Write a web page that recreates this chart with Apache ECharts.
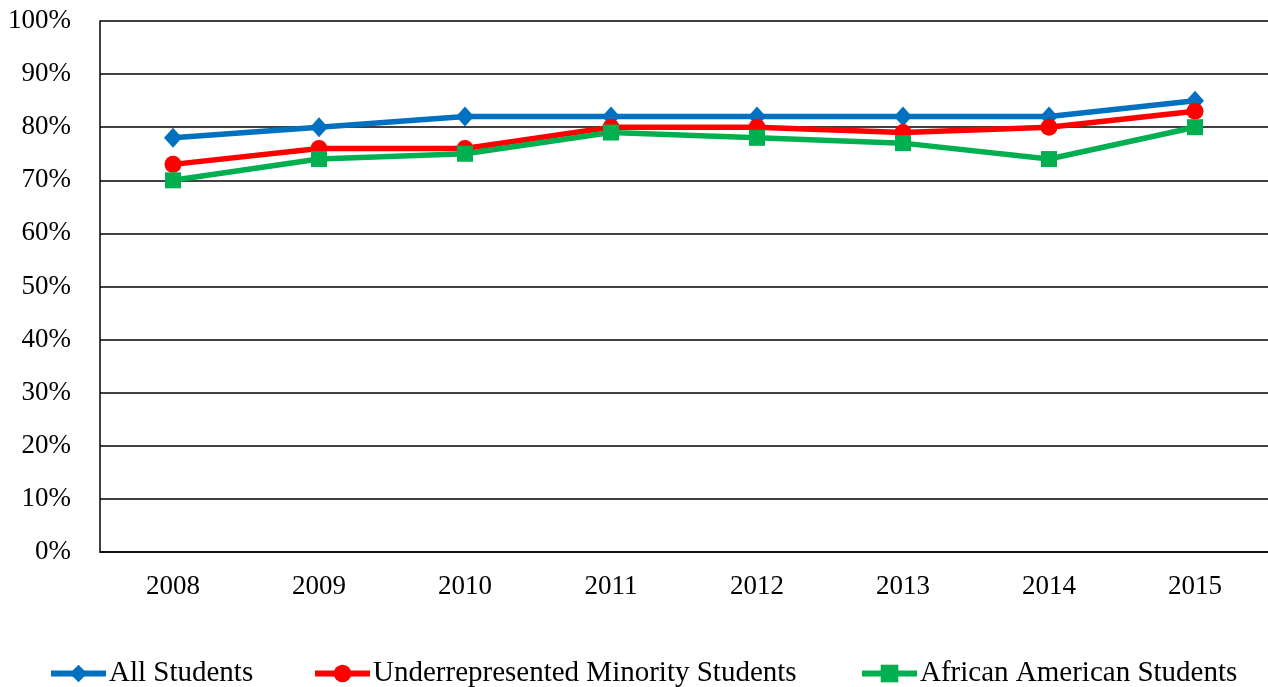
<!DOCTYPE html>
<html>
<head>
<meta charset="utf-8">
<script src="https://cdn.jsdelivr.net/npm/echarts@6/dist/echarts.min.js"></script>
<style>html,body{margin:0;padding:0;background:#fff}#c{width:1268px;height:687px}</style>
</head>
<body>
<div id="c"></div>
<script>
const categories = ['2008','2009','2010','2011','2012','2013','2014','2015'];
const allStudents = [78, 80, 82, 82, 82, 82, 82, 85];
const urmStudents = [73, 76, 76, 80, 80, 79, 80, 83];
const aaStudents = [70, 74, 75, 79, 78, 77, 74, 80];
const seriesNames = ['All Students', 'Underrepresented Minority Students', 'African American Students'];

const chart = echarts.init(document.getElementById('c'), null, {renderer: 'canvas'});
const font = '"Liberation Serif", "Times New Roman", serif';
const legendBase = {
  orient: 'horizontal', top: 659, padding: 0, itemWidth: 55, itemHeight: 22, itemGap: 0,
  lineStyle: {width: 6},
  textStyle: {fontFamily: font, fontSize: 29, color: '#000', padding: [0,0,0,-2]}
};
chart.setOption({
  animation: false,
  backgroundColor: '#fff',
  grid: {left: 100, right: 0, top: 21, bottom: 135, containLabel: false},
  legend: [
    Object.assign({}, legendBase, {left: 48, data: [seriesNames[0]]}),
    Object.assign({}, legendBase, {left: 312, data: [seriesNames[1]]}),
    Object.assign({}, legendBase, {left: 859, data: [seriesNames[2]]})
  ],
  xAxis: {
    type: 'category', data: categories, boundaryGap: true,
    axisLine: {lineStyle: {color: '#000', width: 1.5}},
    axisTick: {show: false},
    axisLabel: {fontFamily: font, fontSize: 27, color: '#000', margin: 21}
  },
  yAxis: {
    type: 'value', min: 0, max: 100, interval: 10,
    axisLine: {show: true, lineStyle: {color: '#000', width: 1.5}},
    axisTick: {show: false},
    splitLine: {lineStyle: {color: '#000', width: 1.5}},
    axisLabel: {fontFamily: font, fontSize: 27, color: '#000', margin: 29, formatter: '{value}%'}
  },
  series: [
    {name: seriesNames[0], type: 'line', data: allStudents, symbol: 'diamond', symbolSize: [18,20],
     lineStyle: {width: 5.5, color: '#0070C0'}, itemStyle: {color: '#0070C0'}},
    {name: seriesNames[1], type: 'line', data: urmStudents, symbol: 'circle', symbolSize: 17,
     lineStyle: {width: 5.5, color: '#FF0000'}, itemStyle: {color: '#FF0000'}},
    {name: seriesNames[2], type: 'line', data: aaStudents, symbol: 'rect', symbolSize: 16,
     lineStyle: {width: 5.5, color: '#00B050'}, itemStyle: {color: '#00B050'}}
  ]
});
</script>
</body>
</html>
